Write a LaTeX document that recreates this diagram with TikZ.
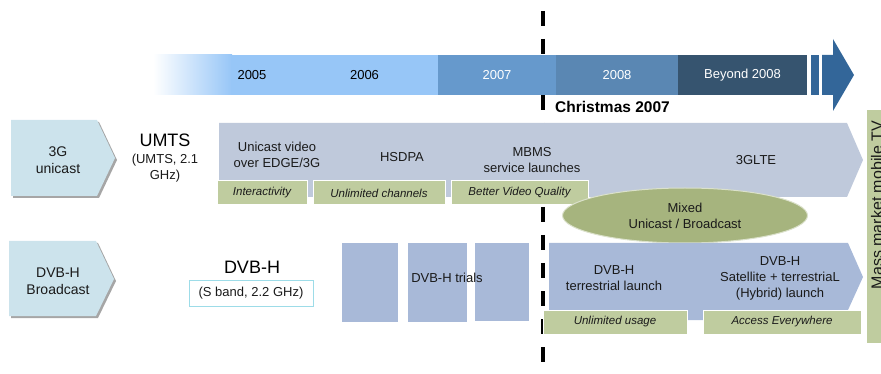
\documentclass[tikz,border=0pt]{standalone}
\usepackage{fontspec}
\setmainfont{Liberation Sans}
\usetikzlibrary{shapes.geometric}

\definecolor{yrlight}{HTML}{97C6F7}
\definecolor{yrmid}{HTML}{6699CC}
\definecolor{yrdeep}{HTML}{5A87B3}
\definecolor{yrdark}{HTML}{36546F}
\definecolor{tlarrow}{HTML}{336699}
\definecolor{chevcol}{HTML}{CCE3EC}
\definecolor{umtscol}{HTML}{BFC9DB}
\definecolor{dvbcol}{HTML}{A8B9D8}
\definecolor{tagcol}{HTML}{BFCC9F}
\definecolor{mixcol}{HTML}{A6B47E}
\definecolor{sbandcol}{HTML}{9DDCE8}
\definecolor{txtcol}{HTML}{1A1A1A}

\tikzset{
  yearlbl/.style={minimum height=40pt, inner sep=0pt, font=\fontsize{13}{15}\selectfont},
  lbl/.style={align=center, inner sep=0pt, text=txtcol, font=\fontsize{13}{16}\selectfont},
  chevlbl/.style={align=center, inner sep=0pt, text=txtcol, font=\fontsize{14}{17}\selectfont},
  biglbl/.style={inner sep=0pt, text=black, font=\fontsize{18}{20}\selectfont},
  tagbox/.style={fill=tagcol, draw=white, line width=1pt, inner sep=0pt, minimum height=24pt,
    text=txtcol, font=\fontsize{11.5}{13}\selectfont\itshape}
}

\begin{document}
\begin{tikzpicture}[x=1pt, y=-1pt]
      \useasboundingbox (0, 0) rectangle (881, 374);

      \coordinate (xmas top) at (543, 11);
      \coordinate (xmas bot) at (543, 365);
      \draw [line width=3.5pt, dash pattern=on 15pt off 13pt] (xmas top) -- (xmas bot);

      \shade [left color=white, right color=yrlight] (153, 55) rectangle (232, 95);
      \fill [yrlight] (231, 55) rectangle (291, 95);
      \node [yearlbl] (y2005) at (252, 75) {2005};
      \node [yearlbl, fill=yrlight, minimum width=147pt] (y2006) at (364.5, 75) {2006};
      \node [yearlbl, fill=yrmid, minimum width=118pt, text=white] (y2007) at (497, 75) {2007};
      \node [yearlbl, fill=yrdeep, minimum width=122pt, text=white] (y2008) at (617, 75) {2008};
      \node [yearlbl, fill=yrdark, minimum width=129pt, text=white] (ybeyond) at (742.5, 75) {Beyond 2008};
      \fill [tlarrow] (811, 55) rectangle (819, 95);
      \fill [tlarrow] (822, 55) -- (833, 55) -- (833, 39) -- (854, 75) -- (833, 111) -- (833, 95) -- (822, 95) -- cycle;

      \node [anchor=west, inner sep=0pt, font=\fontsize{15.5}{17}\selectfont\bfseries] (xmas) at (555, 107) {Christmas 2007};

      \fill [black!35] (13, 122) -- (99, 122) -- (117, 160) -- (99, 198) -- (13, 198) -- cycle;
      \fill [chevcol] (11, 120) -- (97, 120) -- (115, 158) -- (97, 196) -- (11, 196) -- cycle;
      \node [chevlbl] (unicast) at (58, 160) {3G\\unicast};

      \node [biglbl] (umts) at (165, 140) {UMTS};
      \node [lbl, font=\fontsize{13}{15.5}\selectfont] (umtsband) at (165, 168) {(UMTS, 2.1\\GHz)};

      \fill [umtscol] (219, 123) -- (847, 123) -- (863, 160) -- (847, 197) -- (219, 197) -- cycle;
      \node [lbl] (edge) at (277, 155) {Unicast video\\over EDGE/3G};
      \node [lbl] (hsdpa) at (402, 157) {HSDPA};
      \node [lbl] (mbms) at (532, 160) {MBMS\\service launches};
      \node [lbl] (lte) at (756, 160) {3GLTE};

      \node [tagbox, minimum width=90pt] (interact) at (262, 193) {Interactivity};
      \node [tagbox, minimum width=132pt] (channels) at (379, 193) {Unlimited channels};
      \node [tagbox, minimum width=137pt] (quality) at (519.5, 193) {Better Video Quality};

      \node [ellipse, fill=mixcol, draw=white!60!mixcol, line width=1pt, minimum width=245pt, minimum height=55pt,
        lbl] (mixed) at (685, 215.5) {Mixed\\Unicast / Broadcast};

      \fill [black!35] (11, 243) -- (98, 243) -- (116, 281) -- (98, 318) -- (11, 318) -- cycle;
      \fill [chevcol] (9, 241) -- (96, 241) -- (114, 279) -- (96, 316) -- (9, 316) -- cycle;
      \node [chevlbl] (broadcast) at (58, 281) {DVB-H\\Broadcast};

      \node [biglbl] (dvbh) at (252, 267) {DVB-H};
      \node [lbl, draw=sbandcol, line width=1pt, minimum width=124pt, minimum height=26pt] (sband) at (251, 293) {(S band, 2.2 GHz)};

      \fill [dvbcol] (342, 243) rectangle (398, 322);
      \fill [dvbcol] (408, 243) rectangle (467, 322);
      \fill [dvbcol] (475, 243) rectangle (529, 321);
      \node [lbl] (trials) at (447, 278) {DVB-H trials};

      \fill [dvbcol] (549, 243) -- (848, 243) -- (863, 277) -- (848, 310) -- (703, 310) -- (703, 320) -- (549, 320) -- cycle;
      \node [lbl] (terrestrial) at (614, 278) {DVB-H\\terrestrial launch};
      \node [lbl] (hybrid) at (780, 278) {DVB-H\\Satellite + terrestriaL\\(Hybrid) launch};

      \node [tagbox, minimum width=144pt] (usage) at (615, 322) {Unlimited usage};
      \node [tagbox, minimum width=158pt] (everywhere) at (782, 322) {Access Everywhere};

      \begin{scope}
        \clip (860, 0) rectangle (881, 374);
        \fill [tagcol] (867, 110) rectangle (885, 343);
        \node [rotate=90, anchor=base, inner sep=0pt, text=txtcol, font=\fontsize{16}{18}\selectfont] (masstv) at (882.5, 205) {Mass market mobile TV};
      \end{scope}
    \end{tikzpicture}
\end{document}
